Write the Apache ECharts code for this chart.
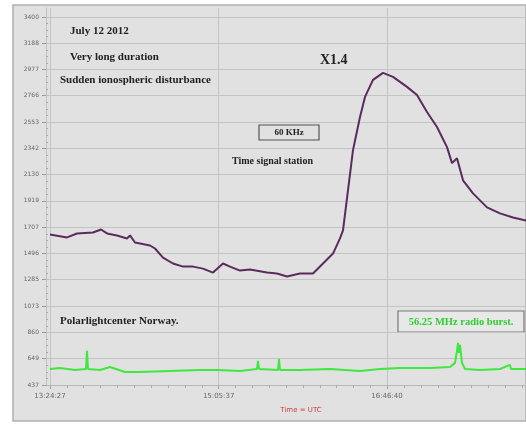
<!DOCTYPE html>
<html><head><meta charset="utf-8">
<script src="https://cdn.jsdelivr.net/npm/echarts@6/dist/echarts.min.js"></script>
<style>html,body{margin:0;padding:0;background:#fff}#c{width:526px;height:424px}</style>
</head><body><div id="c"></div>
<script>
// 60 KHz time signal station (purple)
const purpleTimes = ["13:24:27","13:34:39","13:40:39","13:50:15","13:55:03","13:58:39","14:04:39","14:10:39","14:12:27","14:15:27","14:24:27","14:27:27","14:32:15","14:38:15","14:44:15","14:50:15","14:56:15","15:02:15","15:08:15","15:12:27","15:18:27","15:24:27","15:34:39","15:40:39","15:46:39","15:54:27","16:02:15","16:08:15","16:14:15","16:18:27","16:20:15","16:26:15","16:30:27","16:33:27","16:38:15","16:44:15","16:50:15","16:58:39","17:04:39","17:10:39","17:16:39","17:22:39","17:25:39","17:28:39","17:32:15","17:38:15","17:46:39","17:54:27","18:02:15","18:10:03"];
const purpleValues = [1649,1625,1657,1665,1689,1657,1641,1617,1641,1584,1560,1536,1463,1415,1390,1390,1374,1342,1415,1390,1358,1366,1342,1334,1310,1334,1334,1415,1495,1617,1681,2328,2594,2756,2893,2950,2918,2837,2772,2635,2514,2352,2223,2263,2085,1980,1867,1819,1786,1762];
// 56.25 MHz radio (green)
const greenTimes = ["13:24:27","13:30:27","13:39:27","13:46:03","13:46:39","13:47:15","13:54:27","14:00:27","14:09:27","14:18:27","14:36:27","14:54:27","15:05:15","15:18:27","15:28:39","15:29:15","15:29:51","15:41:15","15:41:51","15:42:27","15:54:27","16:12:27","16:30:27","16:42:27","16:54:27","17:12:27","17:24:27","17:27:27","17:28:39","17:29:15","17:29:51","17:30:27","17:31:39","17:33:27","17:42:27","17:54:27","18:00:27","18:01:03","18:10:03"];
const greenValues = [566,574,558,566,712,566,558,582,542,542,550,558,558,550,566,631,566,558,647,558,558,566,550,566,574,574,582,615,712,776,696,760,615,566,558,566,599,566,566];
const yTickLabels = [437,649,860,1073,1285,1496,1707,1919,2130,2342,2553,2766,2977,3188,3400];
const xTickLabels = ["13:24:27","15:05:37","16:46:40"];
const xRange = ["13:22:03","18:10:03"];
const yRange = [437,3472];

function sec(s){const p=s.split(':').map(Number);return p[0]*3600+p[1]*60+p[2];}
function pad(n){return (n<10?'0':'')+n;}
function fmt(v){v=Math.round(v);return pad(Math.floor(v/3600))+':'+pad(Math.floor(v%3600/60))+':'+pad(v%60);}

const xMajor = xTickLabels.map(sec);
const xStep = (xMajor[1]-xMajor[0])/10;
const xMinor = [];
for(let t=xMajor[0]; t<=sec(xRange[1]); t+=xStep) xMinor.push(t);
const yMinor = [];
for(let i=0;i<yTickLabels.length-1;i++){const d=(yTickLabels[i+1]-yTickLabels[i])/4;for(let k=1;k<4;k++) yMinor.push(yTickLabels[i]+d*k);}

const chart = echarts.init(document.getElementById('c'), null, {renderer:'canvas'});
const serif = "'Liberation Serif','DejaVu Serif',serif";
const grid = {left:46,right:0,top:8,bottom:39};
chart.setOption({
  backgroundColor:'#ffffff',
  animation:false,
  grid: grid,
  xAxis:[{
    type:'value', min:sec(xRange[0]), max:sec(xRange[1]),
    axisLine:{show:true,lineStyle:{color:'#b8b8b8'}},
    axisTick:{show:true,customValues:xMajor,length:4,lineStyle:{color:'#999'}},
    axisLabel:{customValues:xMajor,formatter:fmt,fontSize:7,color:'#666',margin:8,fontFamily:'DejaVu Sans'},
    splitLine:{show:true,customValues:xMajor,lineStyle:{color:'#c4c4c4',width:1}}
  },{
    type:'value', min:sec(xRange[0]), max:sec(xRange[1]), position:'bottom',
    axisLine:{show:false},
    axisTick:{show:true,customValues:xMinor,length:3,lineStyle:{color:'#aaa'}},
    axisLabel:{show:false}, splitLine:{show:false}
  }],
  yAxis:[{
    type:'value', min:yRange[0], max:yRange[1],
    axisLine:{show:true,lineStyle:{color:'#c0c0c0'}},
    axisTick:{show:true,customValues:yTickLabels,length:4,lineStyle:{color:'#999'}},
    axisLabel:{customValues:yTickLabels,formatter:v=>String(Math.round(v)),fontSize:6,color:'#666',margin:7,fontFamily:'DejaVu Sans'},
    splitLine:{show:true,customValues:yTickLabels,lineStyle:{color:'#c4c4c4',width:1}}
  },{
    type:'value', min:yRange[0], max:yRange[1], position:'left',
    axisLine:{show:false},
    axisTick:{show:true,inside:true,customValues:yMinor,length:2,lineStyle:{color:'#aaa'}},
    axisLabel:{show:false}, splitLine:{show:false}
  }],
  series:[{
    type:'line', name:'60 KHz', showSymbol:false, symbol:'none',
    data: purpleTimes.map((t,i)=>[sec(t),purpleValues[i]]),
    lineStyle:{color:'#5b2a5e',width:2}, z:3
  },{
    type:'line', name:'56.25 MHz', showSymbol:false, symbol:'none',
    data: greenTimes.map((t,i)=>[sec(t),greenValues[i]]),
    lineStyle:{color:'#3ee83e',width:2}, z:3
  }],
  graphic:[
    {type:'rect', z:-100, shape:{x:13,y:5,width:513,height:416}, style:{fill:'#e1e1e1',stroke:'#b0b0b0',lineWidth:1.5}},
    {type:'text', x:70, y:31, style:{text:'July 12 2012', font:'bold 11px '+serif, fill:'#222', textVerticalAlign:'middle'}},
    {type:'text', x:70, y:57, style:{text:'Very long duration', font:'bold 11px '+serif, fill:'#222', textVerticalAlign:'middle'}},
    {type:'text', x:60, y:80, style:{text:'Sudden ionospheric disturbance', font:'bold 11px '+serif, fill:'#222', textVerticalAlign:'middle'}},
    {type:'text', x:320, y:60, style:{text:'X1.4', font:'bold 14px '+serif, fill:'#222', textVerticalAlign:'middle'}},
    {type:'rect', shape:{x:259,y:125,width:60,height:15}, style:{fill:'none',stroke:'#555',lineWidth:1.2}},
    {type:'text', x:289, y:133, style:{text:'60 KHz', font:'bold 9px '+serif, fill:'#222', textAlign:'center', textVerticalAlign:'middle'}},
    {type:'text', x:232, y:161, style:{text:'Time signal station', font:'bold 10px '+serif, fill:'#222', textVerticalAlign:'middle'}},
    {type:'text', x:60, y:321, style:{text:'Polarlightcenter Norway.', font:'bold 11px '+serif, fill:'#222', textVerticalAlign:'middle'}},
    {type:'rect', shape:{x:398,y:311,width:126,height:21}, style:{fill:'#e8e8e8',stroke:'#777',lineWidth:1.2}},
    {type:'text', x:461, y:322, style:{text:'56.25 MHz radio burst.', font:'bold 10.5px '+serif, fill:'#2fcf2f', textAlign:'center', textVerticalAlign:'middle'}},
    {type:'text', x:301, y:410, style:{text:'Time = UTC', font:'7px DejaVu Sans', fill:'#c84040', textAlign:'center', textVerticalAlign:'middle'}}
  ]
});
</script></body></html>
